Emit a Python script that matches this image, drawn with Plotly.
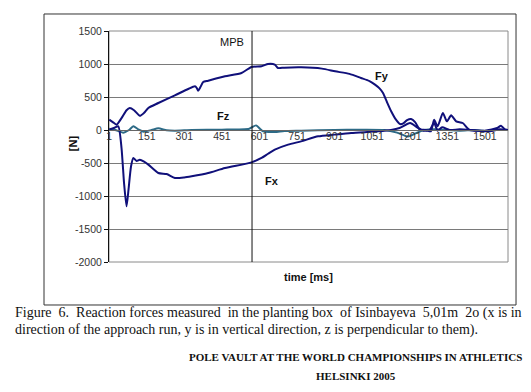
import plotly.graph_objects as go

# ---------------- data ----------------
fy_t = [1, 15, 30, 50, 70, 83, 100, 123, 140, 157, 197, 263, 316, 343, 350, 356, 365, 376, 396,
        463, 529, 569, 609, 635, 662, 675, 700, 767, 850, 903, 960, 1006, 1040, 1062, 1080, 1094,
        1110, 1126, 1145, 1162, 1175, 1190, 1206, 1222, 1240, 1265, 1285, 1298, 1312, 1333, 1349,
        1366, 1386, 1412, 1440, 1500, 1550, 1565, 1580, 1593]
fy_v = [156, 120, 80, 180, 300, 333, 300, 215, 260, 333, 409, 525, 621, 662, 640, 596, 650, 727, 747,
        813, 864, 955, 965, 1000, 990, 939, 945, 950, 930, 889, 850, 788, 740, 687, 630, 560,
        420, 287, 160, 90, 100, 150, 167, 120, 10, 0, -20, 156, 56, 258, 131,
        222, 131, 106, 0, -10, 30, 66, 10, 0]

fx_t = [1, 20, 37, 50, 60, 70, 78, 88, 97, 110, 123, 140, 157, 197, 230, 263, 300, 330, 396, 463,
        569, 609, 635, 662, 715, 767, 835, 900, 967, 1074, 1126, 1160, 1202, 1230, 1255, 1280,
        1298, 1312, 1330, 1360, 1400, 1450, 1520, 1560, 1593]
fx_v = [5, 30, 56, -273, -800, -1156, -900, -550, -424, -470, -450, -480, -525, -652, -667, -727,
        -720, -702, -652, -576, -490, -424, -360, -298, -222, -172, -96, -70, -45, -20, 0, 30, 106,
        40, -10, 0, 106, -10, 40, 0, 10, 0, -20, 10, 0]

fz_t = [1, 25, 57, 80, 97, 117, 137, 170, 197, 230, 263, 330, 450, 560, 587, 605, 615, 662, 700,
        767, 900, 1000, 1100, 1150, 1194, 1230, 1260, 1300, 1400, 1460, 1500, 1540, 1593]
fz_v = [20, 0, -40, 0, 56, 10, -25, 0, 25, -5, -10, 0, 5, 20, 70, 10, -20, -30, -15,
        -10, 0, 5, 0, -40, -100, -40, 0, 10, -10, 0, -15, 0, 0]

x_ticks = [1, 151, 301, 451, 601, 751, 901, 1051, 1201, 1351, 1501]
y_ticks = [1500, 1000, 500, 0, -500, -1000, -1500, -2000]
mpb_t = 571
x_range = [0, 1593]
y_range = [-2000, 1500]

# ---------------- figure ----------------
NAVY = "#10107a"
TEAL = "#2d6a86"
AX_FONT = "Liberation Sans, Arial, sans-serif"
SERIF = "Liberation Serif, Times New Roman, serif"

fig = go.Figure()
fig.add_trace(go.Scatter(x=fz_t, y=fz_v, mode="lines", name="Fz",
                         line=dict(color=TEAL, width=2, shape="spline", smoothing=0.6)))
fig.add_trace(go.Scatter(x=fx_t, y=fx_v, mode="lines", name="Fx",
                         line=dict(color=NAVY, width=2, shape="spline", smoothing=0.6)))
fig.add_trace(go.Scatter(x=fy_t, y=fy_v, mode="lines", name="Fy",
                         line=dict(color=NAVY, width=2, shape="spline", smoothing=0.6)))

y0_frac = (0 - y_range[0]) / (y_range[1] - y_range[0])

fig.update_layout(
    width=531, height=392,
    margin=dict(l=101, r=31, t=23, b=138),
    paper_bgcolor="white", plot_bgcolor="white",
    showlegend=False,
    font=dict(family=AX_FONT, color="#222", size=10),
    xaxis=dict(range=x_range, tickmode="array", tickvals=x_ticks,
               ticktext=[str(v) for v in x_ticks],
               showgrid=False, zeroline=False, showline=True, linecolor="#666", linewidth=1,
               anchor="free", position=y0_frac, ticks="", ticklen=0, ticklabelstandoff=-4,
               tickfont=dict(size=10.5, color="#333")),
    yaxis=dict(range=y_range, tickmode="array", tickvals=y_ticks,
               ticktext=[str(v).replace("\u2212", "-") for v in y_ticks],
               showgrid=True, gridcolor="#7a7a7a", gridwidth=1, zeroline=False,
               showline=True, linecolor="#111", linewidth=1,
               ticks="outside", ticklen=4, tickcolor="#111",
               tickfont=dict(size=10.5, color="#333")),
)

# plot-area border, MPB line, outer chart frame
fig.add_shape(type="rect", xref="x domain", yref="y domain", x0=0, x1=1, y0=0, y1=1,
              line=dict(color="#8a8a8a", width=1), layer="below")
fig.add_shape(type="line", xref="x", yref="y domain", x0=mpb_t, x1=mpb_t, y0=0, y1=1,
              line=dict(color="#111", width=1))
fig.add_shape(type="rect", xref="paper", yref="paper", x0=-0.1629, x1=1.0201, y0=-0.1861, y1=1.0736,
              line=dict(color="#333", width=1))

# in-chart labels
for txt, xx, yy, bold in [("MPB", 492, 1333, False), ("Fy", 1090, 818, True),
                          ("Fz", 456, 212, True), ("Fx", 651, -773, True)]:
    fig.add_annotation(x=xx, y=yy, xref="x", yref="y", text=f"<b>{txt}</b>" if bold else txt,
                       showarrow=False, font=dict(size=11, color="#111", family=AX_FONT))

fig.add_annotation(x=-0.110, y=0.515, xref="paper", yref="paper", text="<b>[N]</b>",
                   textangle=-90, showarrow=False, font=dict(size=11, color="#111", family=AX_FONT))
fig.add_annotation(x=0.499, y=-0.0996, xref="paper", yref="paper", text="<b>time [ms]</b>",
                   showarrow=False, font=dict(size=11, color="#111", family=AX_FONT))

# caption (first line widened with non-breaking spaces in some gaps)
NB = "\u00a0"
cap1_words = ["Figure", "6.", "Reaction", "forces", "measured", "in", "the", "planting", "box", "of",
              "Isinbayeva", "5,01m", "2o", "(x", "is", "in"]
wide_gaps = {0, 1, 4, 8, 10, 11}
cap1 = cap1_words[0]
for i, w in enumerate(cap1_words[1:]):
    cap1 += (" " + NB if i in wide_gaps else " ") + w
cap2 = "direction of the approach run, y is in vertical direction, z is perpendicular to them)."
fig.add_annotation(x=-0.2406, y=-0.264, xref="paper", yref="paper", text=cap1, xanchor="left",
                   showarrow=False, font=dict(size=14, color="#111", family=SERIF))
fig.add_annotation(x=-0.2406, y=-0.3377, xref="paper", yref="paper", text=cap2, xanchor="left",
                   showarrow=False, font=dict(size=14, color="#111", family=SERIF))
fig.add_annotation(x=0.619, y=-0.4459, xref="paper", yref="paper",
                   text="<b>POLE VAULT AT THE WORLD CHAMPIONSHIPS IN ATHLETICS</b>",
                   showarrow=False, font=dict(size=11, color="#111", family=SERIF))
fig.add_annotation(x=0.619, y=-0.528, xref="paper", yref="paper", text="<b>HELSINKI 2005</b>",
                   showarrow=False, font=dict(size=11, color="#111", family=SERIF))

fig.write_html("out.html")
